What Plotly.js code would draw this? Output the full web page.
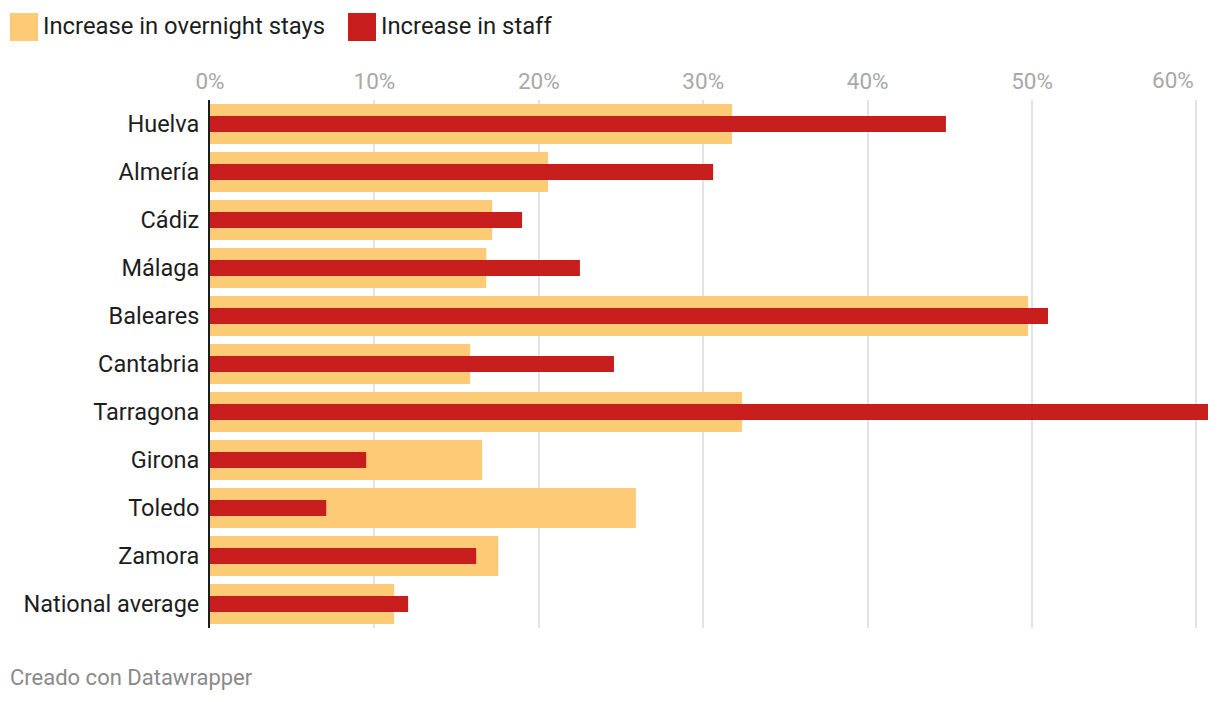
<!DOCTYPE html>
<html>
<head>
<meta charset="utf-8">
<script src="https://cdn.plot.ly/plotly-3.0.1.min.js"></script>
<style>
  html, body { margin: 0; padding: 0; background: #fff; }
  #chart { width: 1220px; height: 702px; }
</style>
</head>
<body>
<div id="chart"></div>
<script>
// Data
var categories = ["Huelva", "Almería", "Cádiz", "Málaga", "Baleares", "Cantabria", "Tarragona", "Girona", "Toledo", "Zamora", "National average"];
var overnightStays = [31.75, 20.56, 17.16, 16.8, 49.75, 15.82, 32.36, 16.55, 25.9, 17.53, 11.2];
var staff = [44.76, 30.6, 18.98, 22.5, 50.97, 24.57, 60.7, 9.5, 7.07, 16.19, 12.05];
var seriesNames = ["Increase in overnight stays", "Increase in staff"];
var tickValues = [0, 10, 20, 30, 40, 50, 60];
var tickLabels = ["0%", "10%", "20%", "30%", "40%", "50%", "60%"];
var footerText = "Creado con Datawrapper";

var colors = ["#FDCA76", "#C71E1D"];
var font = "Roboto, 'Open Sans', sans-serif";
var tickFont = { family: font, size: 22.5, color: "#a8a8a8" };

// the last tick label sits right-aligned to its gridline (drawn as an annotation below)
var last = tickLabels.length - 1;
var tickText = tickLabels.map(function (t, i) { return i === last ? "" : t; });

var traces = [
  {
    type: "bar", orientation: "h", name: seriesNames[0],
    y: categories, x: overnightStays, width: 0.833,
    marker: { color: colors[0], line: { width: 0 } },
    hoverinfo: "y+x", showlegend: false
  },
  {
    type: "bar", orientation: "h", name: seriesNames[1],
    y: categories, x: staff, width: 0.333,
    marker: { color: colors[1], line: { width: 0 } },
    hoverinfo: "y+x", showlegend: false
  }
];

// geometry helpers for the custom legend (paper coordinates)
var L = 210, R = 12, T = 100, B = 74, W = 1220, H = 702;
var pw = W - L - R, ph = H - T - B;
function px(x) { return (x - L) / pw; }
function py(y) { return (H - B - y) / ph; }

var legendX = [10, 348];
var shapes = [], annotations = [];
for (var i = 0; i < 2; i++) {
  shapes.push({
    type: "rect", xref: "paper", yref: "paper",
    x0: px(legendX[i]), x1: px(legendX[i] + 28),
    y0: py(41), y1: py(13),
    fillcolor: colors[i], line: { width: 0 }
  });
  annotations.push({
    xref: "paper", yref: "paper",
    x: px(legendX[i] + 31), y: py(26),
    xanchor: "left", yanchor: "middle",
    text: seriesNames[i], showarrow: false,
    font: { family: font, size: 23.8, color: "#1d1d1d" }
  });
}
annotations.push({
  xref: "x", yref: "paper",
  x: tickValues[last], y: py(80),
  xanchor: "right", yanchor: "middle",
  text: tickLabels[last], showarrow: false,
  font: tickFont
});
annotations.push({
  xref: "paper", yref: "paper",
  x: px(8), y: py(677),
  xanchor: "left", yanchor: "middle",
  text: footerText, showarrow: false,
  font: { family: font, size: 22, color: "#8a8a8a" }
});

var layout = {
  width: W, height: H,
  margin: { l: L, r: R, t: T, b: B, pad: 0 },
  paper_bgcolor: "#fff", plot_bgcolor: "#fff",
  barmode: "overlay",
  showlegend: false,
  font: { family: font, size: 20, color: "#1d1d1d" },
  xaxis: {
    side: "top",
    range: [0, 60.7],
    tickvals: tickValues,
    ticktext: tickText,
    tickfont: tickFont,
    ticks: "",
    ticklabelstandoff: 6,
    showgrid: true, gridcolor: "#e3e3e3", gridwidth: 2,
    zeroline: false,
    showline: false,
    fixedrange: true
  },
  yaxis: {
    type: "category",
    categoryorder: "array",
    categoryarray: categories,
    autorange: false,
    range: [10.5, -0.5],
    tickfont: { family: font, size: 23.5, color: "#1d1d1d" },
    ticks: "",
    ticklabelstandoff: 4,
    showgrid: false,
    zeroline: false,
    showline: true, linecolor: "#1d1d1d", linewidth: 2,
    layer: "above traces",
    fixedrange: true
  },
  shapes: shapes,
  annotations: annotations
};

Plotly.newPlot("chart", traces, layout, { displayModeBar: false, staticPlot: true });
</script>
</body>
</html>
